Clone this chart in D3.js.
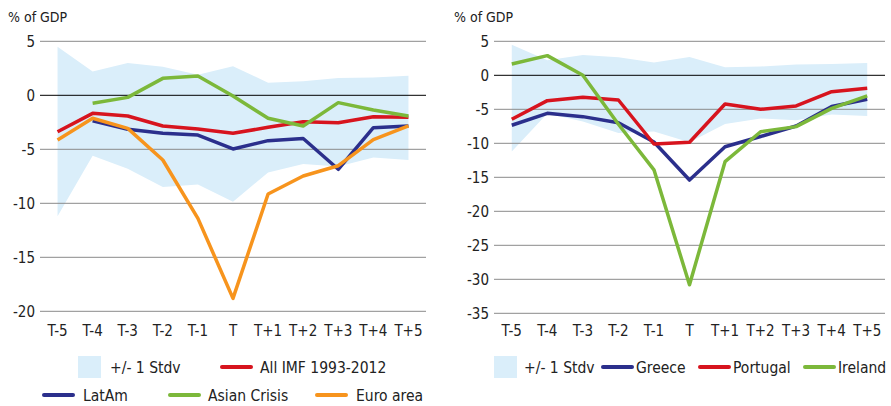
<!DOCTYPE html>
<html><head><meta charset="utf-8">
<script src="https://cdnjs.cloudflare.com/ajax/libs/d3/7.8.5/d3.min.js"></script>
<style>
body{margin:0;background:#fff;}
svg text{font-family:"DejaVu Sans Condensed",sans-serif;fill:#222;}
</style></head><body>
<svg id="c" width="891" height="406"></svg>
<script>
const categories = ["T-5","T-4","T-3","T-2","T-1","T","T+1","T+2","T+3","T+4","T+5"];
const stdUpper = [4.5,2.2,3.0,2.65,1.9,2.7,1.17,1.3,1.6,1.65,1.8];
const stdLower = [-11.2,-5.6,-6.8,-8.5,-8.25,-9.85,-7.15,-6.35,-6.6,-5.75,-6.0];
const allIMF   = [-3.37,-1.67,-1.92,-2.84,-3.12,-3.52,-2.96,-2.44,-2.54,-1.98,-2.04];
const latAm    = [null,-2.35,-3.15,-3.52,-3.68,-4.97,-4.2,-4.0,-6.85,-3.0,-2.84];
const asian    = [null,-0.74,-0.19,1.57,1.79,-0.06,-2.13,-2.84,-0.68,-1.36,-1.92];
const euroArea = [-4.14,-2.13,-3.06,-5.99,-11.4,-18.8,-9.14,-7.47,-6.52,-4.1,-2.84];
const greece   = [-7.35,-5.59,-6.08,-6.97,-9.8,-15.4,-10.5,-9.0,-7.46,-4.6,-3.53];
const portugal = [-6.47,-3.73,-3.24,-3.63,-10.1,-9.85,-4.22,-5.0,-4.51,-2.41,-1.91];
const ireland  = [1.66,2.89,0,-7.2,-13.9,-30.8,-12.7,-8.3,-7.55,-4.86,-3.04];
const leftTicks = [5,0,-5,-10,-15,-20];
const rightTicks = [5,0,-5,-10,-15,-20,-25,-30,-35];

const C = {band:"#daeefa", blue:"#2b2f8c", red:"#d7141e", green:"#7cb83a", orange:"#f7941d"};
const svg = d3.select("#c");

function panel(o){
  const g = svg.append("g");
  const x = d3.scalePoint().domain(categories).range([o.x0,o.x1]).padding(0.5);
  const y = d3.scaleLinear().domain(o.dom).range([o.y0,o.y1]);
  const area = d3.area().x((d,i)=>x(categories[i])).y0((d,i)=>y(stdLower[i])).y1(d=>y(d));
  g.append("path").datum(stdUpper).attr("d",area).attr("fill",C.band);
  g.selectAll(".gl").data(o.ticks).enter().append("line")
    .attr("x1",o.x0).attr("x2",o.x1).attr("y1",d=>y(d)).attr("y2",d=>y(d))
    .attr("stroke",d=>d===0?"#000":"#8a8a8a").attr("stroke-width",1);
  g.selectAll(".yl").data(o.ticks).enter().append("text")
    .attr("x",o.x0-5).attr("y",d=>y(d)).attr("dy","0.35em").attr("text-anchor","end")
    .style("font-size","15px").text(d=>d);
  g.append("text").attr("x",o.tx).attr("y",22).style("font-size","14px").text("% of GDP");
  g.selectAll(".xl").data(categories).enter().append("text")
    .attr("x",d=>x(d)).attr("y",336).attr("text-anchor","middle")
    .style("font-size","15px").text(d=>d);
  const line = d3.line().defined(d=>d!=null).x((d,i)=>x(categories[i])).y(d=>y(d));
  o.series.forEach(s=>{
    g.append("path").datum(s.v).attr("d",line).attr("fill","none")
     .attr("stroke",s.c).attr("stroke-width",3.5).attr("stroke-linejoin","round");
  });
  o.legend.forEach(l=>{
    if(l.type==="band"){
      g.append("rect").attr("x",l.x).attr("y",l.y-11).attr("width",23).attr("height",22).attr("fill",C.band);
    } else {
      g.append("line").attr("x1",l.x).attr("x2",l.x+29).attr("y1",l.y).attr("y2",l.y)
        .attr("stroke",l.c).attr("stroke-width",4).attr("stroke-linecap","round");
    }
    g.append("text").attr("x",l.tx).attr("y",l.y).attr("dy","0.36em").style("font-size","15.5px").text(l.t);
  });
}

panel({x0:40,x1:426,y0:41.3,y1:311.3,dom:[5,-20],ticks:leftTicks,tx:8,
  series:[{v:allIMF,c:C.red},{v:latAm,c:C.blue},{v:asian,c:C.green},{v:euroArea,c:C.orange}],
  legend:[{type:"band",x:78,y:367,tx:110,t:"+/- 1 Stdv"},{x:222,y:367,tx:260,c:C.red,t:"All IMF 1993-2012"},
          {x:44,y:395,tx:83,c:C.blue,t:"LatAm"},{x:170,y:395,tx:208,c:C.green,t:"Asian Crisis"},{x:317,y:395,tx:356,c:C.orange,t:"Euro area"}]});
panel({x0:494,x1:885,y0:41.3,y1:313.3,dom:[5,-35],ticks:rightTicks,tx:454,
  series:[{v:greece,c:C.blue},{v:portugal,c:C.red},{v:ireland,c:C.green}],
  legend:[{type:"band",x:494,y:367,tx:524,t:"+/- 1 Stdv"},{x:603,y:367,tx:636,c:C.blue,t:"Greece"},
          {x:700,y:367,tx:733,c:C.red,t:"Portugal"},{x:805,y:367,tx:838,c:C.green,t:"Ireland"}]});
</script></body></html>
